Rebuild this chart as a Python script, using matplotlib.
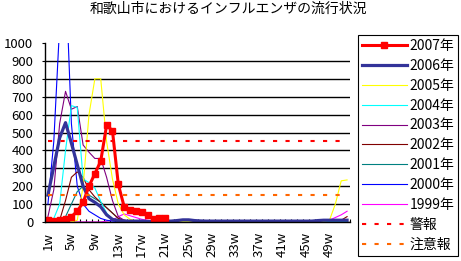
import numpy as np
import matplotlib
matplotlib.use("Agg")
import matplotlib.pyplot as plt

plt.rcParams['font.family'] = ['Noto Sans CJK JP', 'DejaVu Sans']

weeks = list(range(1, 53))
tick_weeks = list(range(1, 53, 4))
tick_labels = [f"{w}w" for w in tick_weeks]

nan = np.nan
y2007 = [10, 5, 10, 15, 30, 60, 110, 200, 270, 340, 540, 510, 210, 85, 65, 60, 55, 40, 15, 25, 20] + [nan] * 31
y2006 = [150, 310, 470, 555, 440, 320, 200, 130, 110, 85, 40, 15, 8, 5, 5, 5, 5, 3, 3, 5,
         5, 5, 8, 12, 12, 8, 6, 5, 5, 5, 5, 5, 5, 5, 5, 5, 5, 5, 5, 5,
         5, 5, 5, 5, 5, 5, 8, 10, 10, 10, 10, 10]
y2005 = [0, 0, 0, 0, 0, 10, 200, 600, 800, 800, 450, 240, 100, 40, 15, 5, 2, 2, 2, 2,
         2, 2, 2, 2, 2, 2, 2, 2, 2, 2, 2, 2, 2, 2, 2, 2, 2, 2, 2, 2,
         2, 2, 2, 2, 2, 2, 2, 5, 10, 100, 230, 235]
y2004 = [0, 20, 100, 400, 650, 640, 240, 220, 190, 115, 50, 15, 5, 3, 2, 2, 2, 2, 2, 2,
         2, 2, 2, 2, 2, 2, 2, 2, 2, 2, 2, 2, 2, 2, 2, 2, 2, 2, 2, 2,
         2, 2, 2, 2, 2, 2, 2, 2, 2, 2, 2, 2]
y2003 = [30, 180, 550, 730, 630, 645, 430, 390, 355, 355, 250, 120, 30, 10, 5, 3, 2, 2, 2, 2,
         2, 2, 2, 2, 2, 2, 2, 2, 2, 2, 2, 2, 2, 2, 2, 2, 2, 2, 2, 2,
         2, 2, 2, 2, 5, 8, 5, 3, 3, 3, 3, 3]
y2002 = [0, 0, 10, 120, 250, 280, 250, 180, 140, 110, 80, 50, 20, 10, 5, 2, 2, 2, 2, 2,
         2, 2, 2, 2, 2, 2, 2, 2, 2, 2, 2, 2, 2, 2, 2, 2, 2, 2, 2, 2,
         2, 2, 2, 2, 2, 2, 2, 2, 2, 5, 10, 30]
y2001 = [0, 0, 5, 30, 100, 170, 200, 150, 130, 110, 80, 50, 20, 10, 5, 2, 2, 2, 2, 2,
         2, 2, 2, 2, 2, 2, 2, 2, 2, 2, 2, 2, 2, 2, 2, 2, 2, 2, 2, 2,
         2, 2, 2, 2, 2, 2, 2, 2, 2, 2, 2, 2]
y2000 = [100, 450, 1100, 1400, 550, 200, 100, 60, 40, 20, 10, 5, 3, 2, 2, 2, 2, 2, 2, 2,
         2, 2, 2, 2, 2, 2, 2, 2, 2, 2, 2, 2, 2, 2, 2, 2, 2, 2, 2, 2,
         2, 2, 2, 2, 2, 5, 5, 5, 5, 5, 5, 5]
y1999 = [0, 0, 0, 0, 0, 0, 0, 0, 0, 0, 5, 10, 30, 45, 35, 25, 15, 10, 5, 2,
         2, 2, 2, 2, 2, 2, 2, 2, 2, 2, 2, 2, 2, 2, 2, 2, 2, 2, 2, 2,
         2, 2, 2, 2, 2, 2, 2, 5, 10, 25, 40, 60]
alert_level = 450
warn_level = 150

fig = plt.figure(figsize=(4.61, 2.61), dpi=100)
ax = fig.add_axes([45 / 461, 1 - 222 / 261, 305 / 461, 179 / 261])

thin = [
    ("1999年", y1999, "#FF00FF"),
    ("2000年", y2000, "#0000FF"),
    ("2001年", y2001, "#008080"),
    ("2002年", y2002, "#800000"),
    ("2003年", y2003, "#800080"),
    ("2004年", y2004, "#00FFFF"),
    ("2005年", y2005, "#FFFF00"),
]
handles = {}
for name, ys, col in thin:
    handles[name], = ax.plot(weeks, ys, color=col, lw=0.8, label=name)

handles["2006年"], = ax.plot(weeks, y2006, color="#333399", lw=2.3, label="2006年")
handles["2007年"], = ax.plot(weeks, y2007, color="#FF0000", lw=2.2, marker="s", ms=3.8,
                            label="2007年")
handles["警報"], = ax.plot(weeks, [alert_level] * len(weeks), color="#FF0000", lw=1.5,
                         dashes=(2, 4), label="警報")
handles["注意報"], = ax.plot(weeks, [warn_level] * len(weeks), color="#FF6600", lw=1.5,
                          dashes=(2, 4), label="注意報")

ax.set_xlim(0.5, 52.5)
ax.set_ylim(0, 1000)
ax.set_yticks(range(0, 1001, 100))
ax.yaxis.grid(True, color="black", lw=1)
ax.yaxis.get_gridlines()[-1].set_visible(False)
ax.set_axisbelow(True)

ax.set_xticks(tick_weeks)
ax.set_xticklabels(tick_labels, rotation=90)
ax.set_xticks(np.arange(0.5, 53, 1), minor=True)
ax.tick_params(axis="x", which="major", length=0, pad=7, labelsize=9.5)
ax.tick_params(axis="x", which="minor", direction="in", length=2.5, width=0.8)
ax.tick_params(axis="y", length=2.5, width=0.8, pad=6, labelsize=9.5)

for s in ["top", "right"]:
    ax.spines[s].set_visible(False)
for s in ["left", "bottom"]:
    ax.spines[s].set_color("black")
    ax.spines[s].set_linewidth(1)

order = ["2007年", "2006年", "2005年", "2004年", "2003年", "2002年", "2001年",
         "2000年", "1999年", "警報", "注意報"]
leg = fig.legend([handles[k] for k in order], order, loc="upper left",
                 bbox_to_anchor=(358 / 461, 1 - 35 / 261), fontsize=10,
                 frameon=True, fancybox=False, edgecolor="black", framealpha=1,
                 handlelength=3.2, handletextpad=0.2, labelspacing=0.42,
                 borderpad=0.3, borderaxespad=0)
leg.get_frame().set_linewidth(0.8)

fig.text(0.495, 0.965, "和歌山市におけるインフルエンザの流行状況", ha="center", va="center",
         fontsize=10)

fig.savefig("out.png", dpi=100)
